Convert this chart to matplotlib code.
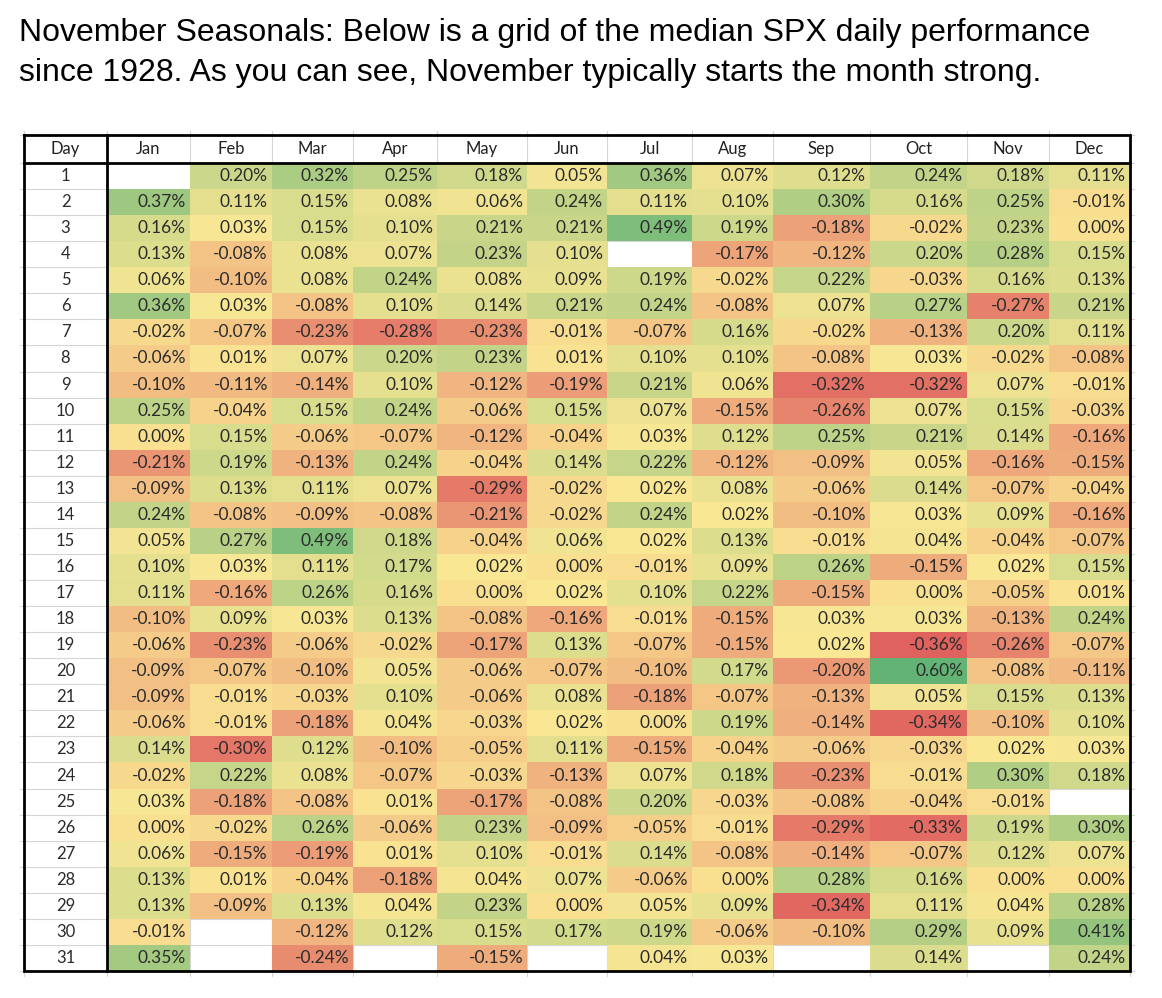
import numpy as np
import matplotlib
matplotlib.use('Agg')
import matplotlib.pyplot as plt
from matplotlib.colors import LinearSegmentedColormap, TwoSlopeNorm

# median SPX daily performance (%) by day of month, since 1928 (None = no value)
MONTHS = ['Jan', 'Feb', 'Mar', 'Apr', 'May', 'Jun', 'Jul', 'Aug', 'Sep', 'Oct', 'Nov', 'Dec']
DAYS = list(range(1, 32))

jan = [None, 0.37, 0.16, 0.13, 0.06, 0.36, -0.02, -0.06, -0.10, 0.25, 0.00, -0.21, -0.09, 0.24, 0.05, 0.10,
       0.11, -0.10, -0.06, -0.09, -0.09, -0.06, 0.14, -0.02, 0.03, 0.00, 0.06, 0.13, 0.13, -0.01, 0.35]
feb = [0.20, 0.11, 0.03, -0.08, -0.10, 0.03, -0.07, 0.01, -0.11, -0.04, 0.15, 0.19, 0.13, -0.08, 0.27, 0.03,
       -0.16, 0.09, -0.23, -0.07, -0.01, -0.01, -0.30, 0.22, -0.18, -0.02, -0.15, 0.01, -0.09, None, None]
mar = [0.32, 0.15, 0.15, 0.08, 0.08, -0.08, -0.23, 0.07, -0.14, 0.15, -0.06, -0.13, 0.11, -0.09, 0.49, 0.11,
       0.26, 0.03, -0.06, -0.10, -0.03, -0.18, 0.12, 0.08, -0.08, 0.26, -0.19, -0.04, 0.13, -0.12, -0.24]
apr = [0.25, 0.08, 0.10, 0.07, 0.24, 0.10, -0.28, 0.20, 0.10, 0.24, -0.07, 0.24, 0.07, -0.08, 0.18, 0.17,
       0.16, 0.13, -0.02, 0.05, 0.10, 0.04, -0.10, -0.07, 0.01, -0.06, 0.01, -0.18, 0.04, 0.12, None]
may = [0.18, 0.06, 0.21, 0.23, 0.08, 0.14, -0.23, 0.23, -0.12, -0.06, -0.12, -0.04, -0.29, -0.21, -0.04, 0.02,
       0.00, -0.08, -0.17, -0.06, -0.06, -0.03, -0.05, -0.03, -0.17, 0.23, 0.10, 0.04, 0.23, 0.15, -0.15]
jun = [0.05, 0.24, 0.21, 0.10, 0.09, 0.21, -0.01, 0.01, -0.19, 0.15, -0.04, 0.14, -0.02, -0.02, 0.06, 0.00,
       0.02, -0.16, 0.13, -0.07, 0.08, 0.02, 0.11, -0.13, -0.08, -0.09, -0.01, 0.07, 0.00, 0.17, None]
jul = [0.36, 0.11, 0.49, None, 0.19, 0.24, -0.07, 0.10, 0.21, 0.07, 0.03, 0.22, 0.02, 0.24, 0.02, -0.01,
       0.10, -0.01, -0.07, -0.10, -0.18, 0.00, -0.15, 0.07, 0.20, -0.05, 0.14, -0.06, 0.05, 0.19, 0.04]
aug = [0.07, 0.10, 0.19, -0.17, -0.02, -0.08, 0.16, 0.10, 0.06, -0.15, 0.12, -0.12, 0.08, 0.02, 0.13, 0.09,
       0.22, -0.15, -0.15, 0.17, -0.07, 0.19, -0.04, 0.18, -0.03, -0.01, -0.08, 0.00, 0.09, -0.06, 0.03]
sep = [0.12, 0.30, -0.18, -0.12, 0.22, 0.07, -0.02, -0.08, -0.32, -0.26, 0.25, -0.09, -0.06, -0.10, -0.01, 0.26,
       -0.15, 0.03, 0.02, -0.20, -0.13, -0.14, -0.06, -0.23, -0.08, -0.29, -0.14, 0.28, -0.34, -0.10, None]
oct_ = [0.24, 0.16, -0.02, 0.20, -0.03, 0.27, -0.13, 0.03, -0.32, 0.07, 0.21, 0.05, 0.14, 0.03, 0.04, -0.15,
        0.00, 0.03, -0.36, 0.60, 0.05, -0.34, -0.03, -0.01, -0.04, -0.33, -0.07, 0.16, 0.11, 0.29, 0.14]
nov = [0.18, 0.25, 0.23, 0.28, 0.16, -0.27, 0.20, -0.02, 0.07, 0.15, 0.14, -0.16, -0.07, 0.09, -0.04, 0.02,
       -0.05, -0.13, -0.26, -0.08, 0.15, -0.10, 0.02, 0.30, -0.01, 0.19, 0.12, 0.00, 0.04, 0.09, None]
dec = [0.11, -0.01, 0.00, 0.15, 0.13, 0.21, 0.11, -0.08, -0.01, -0.03, -0.16, -0.15, -0.04, -0.16, -0.07, 0.15,
       0.01, 0.24, -0.07, -0.11, 0.13, 0.10, 0.03, 0.18, None, 0.30, 0.07, 0.00, 0.28, 0.41, 0.24]

TITLE_1 = 'November Seasonals: Below is a grid of the median SPX daily performance'
TITLE_2 = 'since 1928. As you can see, November typically starts the month strong.'

# --- layout (figure pixels) ----------------------------------------------
W, H = 1162, 998
COL_EDGES = [24, 107, 190, 272, 353, 437, 527, 607, 692, 773, 870, 967, 1049, 1130]
TABLE_TOP, HEADER_BOTTOM, TABLE_BOTTOM = 135, 163, 971
ROW_H = (TABLE_BOTTOM - HEADER_BOTTOM) / len(DAYS)
row_edges = HEADER_BOTTOM + ROW_H * np.arange(len(DAYS) + 1)

CELL_FONT = 'Lato'
TEXT_DARK = '#2b2b2b'
GRID_GRAY = '#d6d6d6'

# Excel-style red / yellow / green scale, slightly muted like the screenshot
cmap = LinearSegmentedColormap.from_list('ryg', ['#e0625f', '#fae794', '#63b474'])

cols = [jan, feb, mar, apr, may, jun, jul, aug, sep, oct_, nov, dec]
vals = np.array([[np.nan if v is None else v for v in c] for c in cols], dtype=float).T  # (31, 12)
norm = TwoSlopeNorm(vmin=np.nanmin(vals), vcenter=np.nanpercentile(vals, 50), vmax=np.nanmax(vals))

fig = plt.figure(figsize=(W / 100, H / 100), dpi=100)
ax = fig.add_axes([0, 0, 1, 1])
ax.set_xlim(0, W)
ax.set_ylim(H, 0)
ax.axis('off')

# faint spreadsheet gridlines, running slightly past the table like in Excel
for x in COL_EDGES:
    ax.plot([x, x], [TABLE_TOP - 4, TABLE_BOTTOM + 5], color=GRID_GRAY, lw=0.8, zorder=0)
for y in np.concatenate([[TABLE_TOP], row_edges]):
    ax.plot([COL_EDGES[0] - 4, COL_EDGES[-1] + 4], [y, y], color=GRID_GRAY, lw=0.8, zorder=0)

# coloured cells
ax.pcolormesh(COL_EDGES[1:], row_edges, np.ma.masked_invalid(vals), cmap=cmap, norm=norm,
              shading='flat', antialiased=False, zorder=1)

# header row
ax.text((COL_EDGES[0] + COL_EDGES[1]) / 2, (TABLE_TOP + HEADER_BOTTOM) / 2, 'Day',
        ha='center', va='center', fontsize=12, family=CELL_FONT, color='#222222', zorder=3)
for j, m in enumerate(MONTHS):
    ax.text((COL_EDGES[j + 1] + COL_EDGES[j + 2]) / 2, (TABLE_TOP + HEADER_BOTTOM) / 2, m,
            ha='center', va='center', fontsize=12, family=CELL_FONT, color='#222222', zorder=3)

# day numbers and values
for i, d in enumerate(DAYS):
    yc = (row_edges[i] + row_edges[i + 1]) / 2
    ax.text((COL_EDGES[0] + COL_EDGES[1]) / 2, yc, str(d), ha='center', va='center',
            fontsize=12, family=CELL_FONT, color=TEXT_DARK, zorder=3)
    for j in range(len(MONTHS)):
        v = vals[i, j]
        if np.isnan(v):
            continue
        ax.text(COL_EDGES[j + 2] - 4, yc, f'{v:.2f}%', ha='right', va='center',
                fontsize=12.5, family=CELL_FONT, color=TEXT_DARK, zorder=3)

# heavy borders: outline, under header, right of Day column
bx = [COL_EDGES[0], COL_EDGES[-1], COL_EDGES[-1], COL_EDGES[0], COL_EDGES[0]]
by = [TABLE_TOP, TABLE_TOP, TABLE_BOTTOM, TABLE_BOTTOM, TABLE_TOP]
ax.plot(bx, by, color='black', lw=2.0, zorder=4, solid_joinstyle='miter')
ax.plot([COL_EDGES[0], COL_EDGES[-1]], [HEADER_BOTTOM, HEADER_BOTTOM], color='black', lw=2.0, zorder=4)
ax.plot([COL_EDGES[1], COL_EDGES[1]], [TABLE_TOP, TABLE_BOTTOM], color='black', lw=2.0, zorder=4)

# title text above the grid
ax.text(19, 41, TITLE_1, ha='left', va='baseline', fontsize=23, family='Liberation Sans', color='black')
ax.text(19, 81, TITLE_2, ha='left', va='baseline', fontsize=23, family='Liberation Sans', color='black')

fig.savefig('out.png', dpi=100)
